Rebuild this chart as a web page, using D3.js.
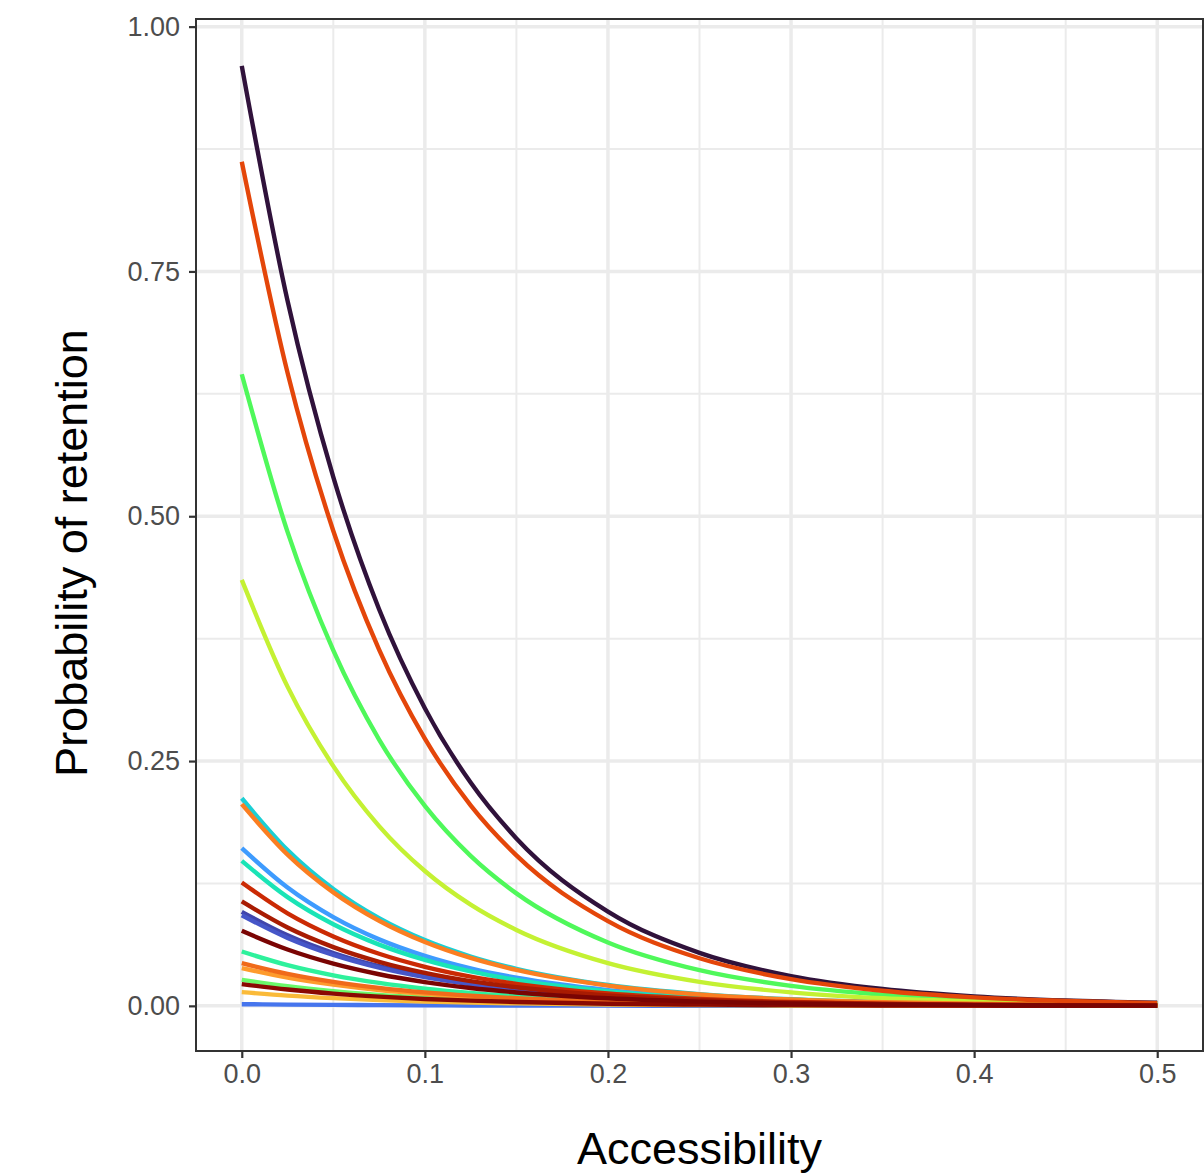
<html lang="en">
<head>
  <meta charset="UTF-8" />
  <title>Probability of retention</title>
  <style>
    body, html { margin: 0; padding: 0; background: white; }
    svg { display: block; font-family: "Liberation Sans", Arial, sans-serif; }
    .tick-label { fill: #4d4d4d; font-size: 27px; }
    .axis-title { fill: black; font-size: 45px; }
  </style>
</head>
<body>
  <div id="canvas"></div>
  <script src="https://cdn.jsdelivr.net/npm/d3@7"></script>
  <script>
    const w = 1204;
    const h = 1173;

    // accessibility values where each curve was read
    const accessX = [0, 0.025, 0.05, 0.075, 0.1, 0.125, 0.15, 0.2, 0.25, 0.3, 0.35, 0.4, 0.45, 0.5];

    const xTicks = [0, 0.1, 0.2, 0.3, 0.4, 0.5];
    const xTickLabels = ["0.0", "0.1", "0.2", "0.3", "0.4", "0.5"];
    const yTicks = [0, 0.25, 0.5, 0.75, 1];
    const yTickLabels = ["0.00", "0.25", "0.50", "0.75", "1.00"];

    // line colours, in drawing order
    const lineColors = [
      "#30123b", "#4145ab", "#4656c8", "#4675ed", "#3e9bfe", "#1bcfd4",
      "#1ae4b6", "#2ef19c", "#4ff85a", "#6af96a", "#c4f133", "#faba39",
      "#fe9b2d", "#fb7e21", "#f06a1a", "#e4460a", "#cb2a04", "#a81b02",
      "#8a0902", "#7a0403"
    ];

    // probability of retention at each accessX, one row per line
    const retention = [
      [0.960, 0.720, 0.540, 0.405, 0.304, 0.228, 0.171, 0.0963, 0.0541, 0.0304, 0.0172, 0.0097, 0.0054, 0.0031],
      [0.0960, 0.0720, 0.0540, 0.0405, 0.0304, 0.0228, 0.0171, 0.0096, 0.0054, 0.0030, 0.0017, 0.0010, 0.0005, 0.0003],
      [0.0925, 0.0694, 0.0520, 0.0390, 0.0293, 0.0220, 0.0165, 0.0093, 0.0052, 0.0029, 0.0017, 0.0009, 0.0005, 0.0003],
      [0.0017, 0.0013, 0.0010, 0.0007, 0.0005, 0.0004, 0.0003, 0.0002, 0.0001, 0.0001, 0.0000, 0.0000, 0.0000, 0.0000],
      [0.161, 0.1208, 0.0906, 0.0679, 0.0510, 0.0382, 0.0287, 0.0161, 0.0091, 0.0051, 0.0029, 0.0016, 0.0009, 0.0005],
      [0.212, 0.159, 0.1193, 0.0895, 0.0671, 0.0504, 0.0378, 0.0213, 0.0120, 0.0067, 0.0038, 0.0021, 0.0012, 0.0007],
      [0.148, 0.111, 0.0833, 0.0625, 0.0469, 0.0352, 0.0264, 0.0148, 0.0083, 0.0047, 0.0026, 0.0015, 0.0008, 0.0005],
      [0.0555, 0.0416, 0.0312, 0.0234, 0.0176, 0.0132, 0.0099, 0.0056, 0.0031, 0.0018, 0.0010, 0.0006, 0.0003, 0.0002],
      [0.645, 0.484, 0.363, 0.272, 0.2042, 0.1532, 0.1149, 0.0647, 0.0364, 0.0204, 0.0115, 0.0065, 0.0037, 0.0021],
      [0.0266, 0.0200, 0.0150, 0.0112, 0.0084, 0.0063, 0.0047, 0.0027, 0.0015, 0.0008, 0.0005, 0.0003, 0.0002, 0.0001],
      [0.435, 0.326, 0.2448, 0.1836, 0.1377, 0.1033, 0.0775, 0.0436, 0.0245, 0.0138, 0.0078, 0.0044, 0.0025, 0.0014],
      [0.0140, 0.0105, 0.0079, 0.0059, 0.0044, 0.0033, 0.0025, 0.0014, 0.0008, 0.0004, 0.0003, 0.0001, 0.0001, 0.0000],
      [0.0385, 0.0289, 0.0217, 0.0162, 0.0122, 0.0091, 0.0069, 0.0039, 0.0022, 0.0012, 0.0007, 0.0004, 0.0002, 0.0001],
      [0.206, 0.1545, 0.1159, 0.0869, 0.0652, 0.0489, 0.0367, 0.0207, 0.0116, 0.0065, 0.0037, 0.0021, 0.0012, 0.0007],
      [0.0436, 0.0327, 0.0245, 0.0184, 0.0138, 0.0104, 0.0078, 0.0044, 0.0025, 0.0014, 0.0008, 0.0004, 0.0002, 0.0001],
      [0.862, 0.6465, 0.485, 0.3638, 0.2729, 0.2047, 0.1536, 0.0865, 0.0486, 0.0273, 0.0154, 0.0087, 0.0049, 0.0027],
      [0.126, 0.0945, 0.0709, 0.0532, 0.0399, 0.0299, 0.0225, 0.0126, 0.0071, 0.0040, 0.0023, 0.0013, 0.0007, 0.0004],
      [0.1066, 0.0800, 0.0600, 0.0450, 0.0337, 0.0253, 0.0190, 0.0107, 0.0060, 0.0034, 0.0019, 0.0011, 0.0006, 0.0003],
      [0.0222, 0.0167, 0.0125, 0.0094, 0.0070, 0.0053, 0.0040, 0.0022, 0.0013, 0.0007, 0.0004, 0.0002, 0.0001, 0.0001],
      [0.0766, 0.0575, 0.0431, 0.0323, 0.0243, 0.0182, 0.0137, 0.0077, 0.0043, 0.0024, 0.0014, 0.0008, 0.0004, 0.0002]
    ];

    const panel = { left: 196, right: 1203, top: 19, bottom: 1051 };

    const svg = d3.select("#canvas")
      .append("svg")
      .attr("width", w)
      .attr("height", h);

    const x = d3.scaleLinear()
      .domain([-0.025, 0.525])
      .range([panel.left, panel.right]);

    const y = d3.scaleLinear()
      .domain([-0.0461, 1.0078])
      .range([panel.bottom, panel.top]);

    // grid
    const grid = svg.append("g");
    const minorX = [0.05, 0.15, 0.25, 0.35, 0.45];
    const minorY = [0.125, 0.375, 0.625, 0.875];

    grid.selectAll(".minor-x").data(minorX).enter().append("line")
      .attr("x1", d => x(d)).attr("x2", d => x(d))
      .attr("y1", panel.top).attr("y2", panel.bottom)
      .attr("stroke", "#ebebeb").attr("stroke-width", 2);
    grid.selectAll(".minor-y").data(minorY).enter().append("line")
      .attr("y1", d => y(d)).attr("y2", d => y(d))
      .attr("x1", panel.left).attr("x2", panel.right)
      .attr("stroke", "#ebebeb").attr("stroke-width", 2);
    grid.selectAll(".major-x").data(xTicks).enter().append("line")
      .attr("x1", d => x(d)).attr("x2", d => x(d))
      .attr("y1", panel.top).attr("y2", panel.bottom)
      .attr("stroke", "#ebebeb").attr("stroke-width", 3.5);
    grid.selectAll(".major-y").data(yTicks).enter().append("line")
      .attr("y1", d => y(d)).attr("y2", d => y(d))
      .attr("x1", panel.left).attr("x2", panel.right)
      .attr("stroke", "#ebebeb").attr("stroke-width", 3.5);

    // curves
    const line = d3.line()
      .x((d, i) => x(accessX[i]))
      .y(d => y(d))
      .curve(d3.curveMonotoneX);

    svg.append("g").selectAll("path")
      .data(retention)
      .enter()
      .append("path")
      .attr("d", d => line(d))
      .attr("fill", "none")
      .attr("stroke", (d, i) => lineColors[i])
      .attr("stroke-width", 4.4);

    // panel border
    svg.append("rect")
      .attr("x", panel.left).attr("y", panel.top)
      .attr("width", panel.right - panel.left)
      .attr("height", panel.bottom - panel.top)
      .attr("fill", "none")
      .attr("stroke", "#333333")
      .attr("stroke-width", 2);

    // axes
    const xAxis = d3.axisBottom(x)
      .tickValues(xTicks)
      .tickFormat((d, i) => xTickLabels[i])
      .tickSize(7).tickPadding(6);

    const yAxis = d3.axisLeft(y)
      .tickValues(yTicks)
      .tickFormat((d, i) => yTickLabels[i])
      .tickSize(7).tickPadding(9);

    function styleAxis(g) {
      g.select(".domain").remove();
      g.selectAll(".tick line").attr("stroke", "#333333").attr("stroke-width", 2.2);
      g.selectAll(".tick text").attr("class", "tick-label")
        .attr("font-family", null).attr("font-size", null);
    }

    svg.append("g")
      .attr("transform", "translate(0," + panel.bottom + ")")
      .call(xAxis)
      .call(styleAxis);

    svg.append("g")
      .attr("transform", "translate(" + panel.left + ",0)")
      .call(yAxis)
      .call(styleAxis);

    // axis titles
    svg.append("text")
      .attr("class", "axis-title")
      .attr("x", (panel.left + panel.right) / 2)
      .attr("y", 1164)
      .attr("text-anchor", "middle")
      .text("Accessibility");

    svg.append("text")
      .attr("class", "axis-title")
      .attr("transform", "translate(87," + 553 + ") rotate(-90)")
      .attr("text-anchor", "middle")
      .text("Probability of retention");
  </script>
</body>
</html>
